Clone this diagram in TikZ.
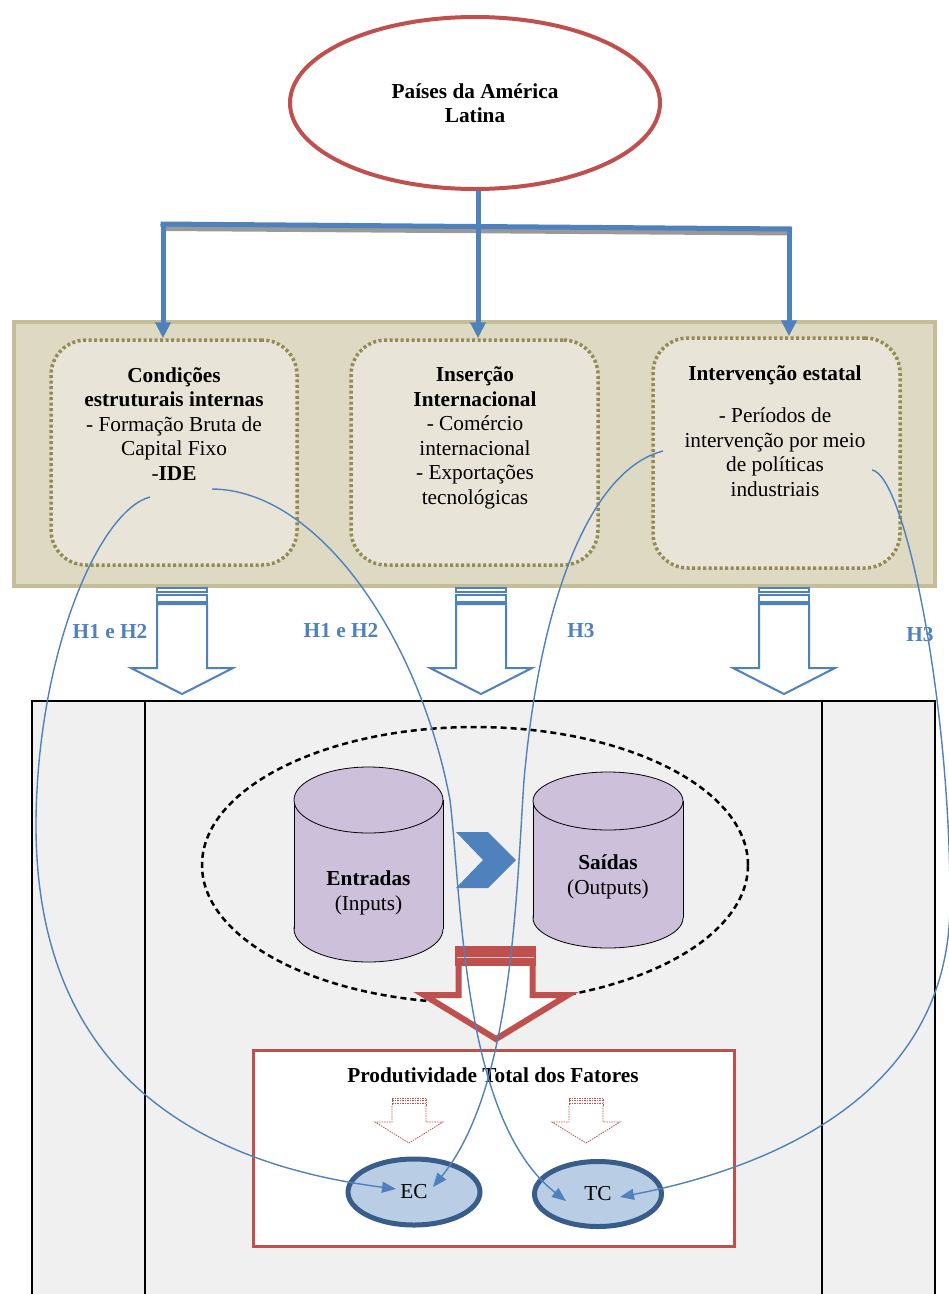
\documentclass[tikz,border=0pt]{standalone}
\usepackage{fontspec}
\setmainfont{Liberation Serif}
\usetikzlibrary{arrows.meta,shapes.geometric,calc}
\definecolor{cred}{HTML}{C0504D}
\definecolor{cblue}{HTML}{4F81BD}
\definecolor{cdblue}{HTML}{385D8A}
\definecolor{clblue}{HTML}{B9CDE5}
\definecolor{ctan}{HTML}{DDD9C3}
\definecolor{ctanb}{HTML}{C4BD97}
\definecolor{colive}{HTML}{948A54}
\definecolor{cinner}{HTML}{E8E5D8}
\definecolor{cgray}{HTML}{F0F0F0}
\definecolor{clav}{HTML}{CCC0DA}
\begin{document}
\begin{tikzpicture}[x=1pt,y=-1pt,
  txt/.style={align=center,inner sep=0pt,font=\fontsize{21.3}{24.5}\selectfont},
  hlab/.style={align=center,inner sep=0pt,text=cblue,font=\fontsize{21.3}{24.5}\selectfont\bfseries},
  dotbox/.style={draw=colive,fill=cinner,line width=3.5pt,dash pattern=on 3pt off 2.5pt,rounded corners=35pt,inner sep=0pt},
  bluehollow/.style={draw=cblue,line width=2pt,fill=white},
  redsmall/.style={draw=cred,line width=0.8pt,dash pattern=on 1.5pt off 1pt},
  curve/.style={draw=cblue,line width=1.4pt,-{Triangle[length=14pt,width=11pt]}},
  feed/.style={draw=cblue,line width=5pt,-{Triangle[length=16pt,width=15pt]}}
]
\useasboundingbox (0,0) rectangle (949,1294);
\fill[white] (0,0) rectangle (949,1294);

% top ellipse
\node[ellipse,draw=cred,line width=4pt,fill=white,minimum width=370pt,minimum height=172pt,txt] (paises) at (475,103)
  {\textbf{Países da América}\\\textbf{Latina}};

% tan panel
\node[draw=ctanb,fill=ctan,line width=4pt,minimum width=921pt,minimum height=264pt,inner sep=0pt] (panel) at (474.5,454) {};

% dotted boxes
\node[dotbox,minimum width=246pt,minimum height=225pt] (box1) at (174,452.5) {};
\node[dotbox,minimum width=247pt,minimum height=225pt] (box2) at (474.5,452.5) {};
\node[dotbox,minimum width=247pt,minimum height=230pt] (box3) at (776.5,453) {};

\node[txt] (t1) at (174,424) {\textbf{Condições}\\\textbf{estruturais internas}\\- Formação Bruta de\\Capital Fixo\\-\textbf{IDE}};
\node[txt] (t2) at (475,438) {\textbf{Inserção}\\\textbf{Internacional}\\- Comércio\\internacional\\- Exportações\\tecnológicas};
\node[txt] (t3a) at (775,375) {\textbf{Intervenção estatal}};
\node[txt] (t3b) at (775,452) {- Períodos de\\intervenção por meio\\de políticas\\industriais};

% connector bar
\coordinate (bl) at (163,224);
\coordinate (bm) at (478,226.5);
\coordinate (br) at (789,229);
\draw[line width=5pt,black!40] (163,228.5) -- (790,233);
\draw[cblue,line width=5pt] (160.5,224) -- (792,229);
\draw[cblue,line width=5pt] (bm |- paises.south) -- (bm);
\draw[feed] (bl) -- (bl |- box1.north);
\draw[feed] (bm) -- (bm |- box2.north);
\draw[feed] (br) -- (br |- box3.north);

% hollow blue arrows
\foreach \cx in {182,481,784} {
  \draw[bluehollow] (\cx-25,588) rectangle (\cx+25,592);
  \draw[bluehollow] (\cx-25,595) rectangle (\cx+25,602);
  \draw[bluehollow] (\cx-25,604) -- (\cx+25,604) -- (\cx+25,668) -- (\cx+51,668) -- (\cx,694) -- (\cx-51,668) -- (\cx-25,668) -- cycle;
}

% labels
\node[hlab] (h1) at (110,632) {H1 e H2};
\node[hlab] (h2) at (341,631) {H1 e H2};
\node[hlab] (h3) at (581,631) {H3};
\node[hlab] (h4) at (920,635) {H3};

% gray box
\draw[line width=2pt,fill=cgray] (32,701) rectangle (935,1330);
\draw[line width=1.2pt] (145,701) -- (145,1330);
\draw[line width=1.2pt] (822,701) -- (822,1330);

% dashed ellipse
\draw[line width=2.5pt,dash pattern=on 6pt off 4pt] (475,865) ellipse [x radius=273pt,y radius=138pt];

% cylinder 1
\draw[fill=clav,line width=0.8pt] (368.5,929) ellipse [x radius=74.5pt,y radius=33pt];
\fill[clav] (294,800) rectangle (443,929);
\draw[line width=0.8pt] (294,800) -- (294,929) (443,800) -- (443,929);
\draw[fill=clav,line width=0.8pt] (368.5,800) ellipse [x radius=74.5pt,y radius=33pt];
% cylinder 2
\draw[fill=clav,line width=0.8pt] (608,918) ellipse [x radius=75pt,y radius=30pt];
\fill[clav] (533,801) rectangle (683,918);
\draw[line width=0.8pt] (533,801) -- (533,918) (683,801) -- (683,918);
\draw[fill=clav,line width=0.8pt] (608,801) ellipse [x radius=75pt,y radius=29pt];

\node[txt] (entradas) at (368.5,893) {\textbf{Entradas}\\(Inputs)};
\node[txt] (saidas) at (608,877) {\textbf{Saídas}\\(Outputs)};

% chevron
\fill[cblue] (456,832) -- (488,832) -- (516,860) -- (488,888) -- (456,888) -- (483,860) -- cycle;

% red big arrow
\draw[cred,line width=6pt,fill=white,line join=miter] (458.5,962) -- (458.5,995) -- (424,995) -- (496,1039) -- (568,995) -- (532.5,995) -- (532.5,962);
\fill[cred] (455,946) rectangle (536,966);
\draw[white!65!cred,line width=1pt] (457,957) -- (534,957);

% PTF box
\node[draw=cred,line width=3pt,fill=white,minimum width=481pt,minimum height=196pt,inner sep=0pt] (ptf) at (494,1148.5) {};
\node[txt] (ptft) at (493,1075) {\textbf{Produtividade Total dos Fatores}};

% small red dashed arrows
\foreach \cx in {409,586} {
  \draw[redsmall] (\cx-17,1098) rectangle (\cx+17,1106);
  \draw[redsmall,line width=0.6pt] (\cx-17,1100.7) -- (\cx+17,1100.7) (\cx-17,1103.3) -- (\cx+17,1103.3);
  \draw[redsmall,fill=white] (\cx-17,1106) -- (\cx-17,1122) -- (\cx-34,1122) -- (\cx,1143) -- (\cx+34,1122) -- (\cx+17,1122) -- (\cx+17,1106);
}

% EC / TC
\node[ellipse,draw=cdblue,fill=clblue,line width=5pt,minimum width=132pt,minimum height=66pt,txt] (EC) at (414,1192) {EC};
\node[ellipse,draw=cdblue,fill=clblue,line width=5pt,minimum width=127pt,minimum height=65pt,txt] (TC) at (598,1194) {TC};

% curves
\coordinate (s1) at (150,497);
\coordinate (s2) at (212,489);
\coordinate (s3) at (663,451);
\coordinate (s4) at (872,470);
\draw[curve] (s1) .. controls (100,510) and (38,650) .. (36,820) .. controls (34,1050) and (170,1160) .. ($(EC)+(-18,-3)$);
\draw[curve] (s2) .. controls (320,490) and (420,640) .. (450,800) .. controls (462,900) and (462,1120) .. ($(TC)+(-32,7)$);
\draw[curve] (s3) .. controls (590,470) and (540,600) .. (524,780) .. controls (516,900) and (512,1090) .. ($(EC)+(19,-5)$);
\draw[curve] (s4) .. controls (905,475) and (950,700) .. (950,900) .. controls (952,1100) and (760,1170) .. ($(TC)+(22,3)$);
\end{tikzpicture}
\end{document}
